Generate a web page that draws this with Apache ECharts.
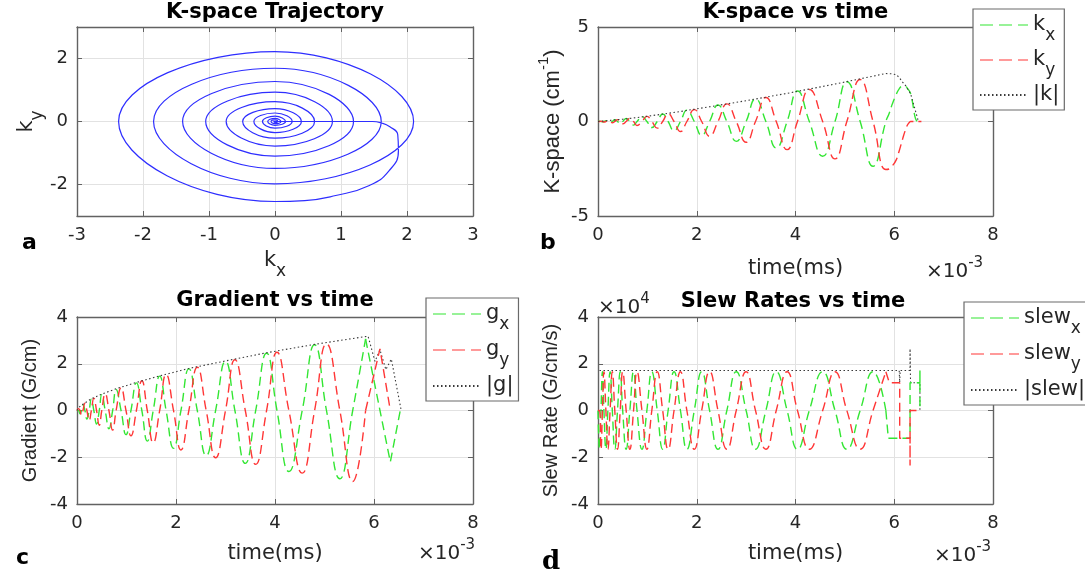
<!DOCTYPE html>
<html>
<head>
<meta charset="utf-8">
<script src="https://cdn.jsdelivr.net/npm/echarts@6/dist/echarts.min.js"></script>
<style>
  html, body { margin: 0; padding: 0; background: #fff; }
  #chart { width: 1085px; height: 578px; }
</style>
</head>
<body>
<div id="chart"></div>
<script>
// ---- data -------------------------------------------------------------
// Time values are in units of 1e-3 (the multiplier printed under each time axis).
// Samples are taken at every quarter turn of the spiral (kx max, ky max, kx min, ky min).
const turnTime = [0,
  0.03, 0.06, 0.09, 0.12,   0.16, 0.20, 0.245, 0.29,   0.34, 0.395, 0.45, 0.50,
  0.57, 0.645, 0.72, 0.79,  0.89, 0.99, 1.09, 1.20,    1.31, 1.42, 1.54, 1.67,
  1.80, 1.95, 2.10, 2.26,   2.43, 2.61, 2.80, 3.00,    3.19, 3.40, 3.61, 3.83,
  4.04, 4.28, 4.55, 4.80,   5.04, 5.31, 5.57, 5.83];

// k-space (cm^-1)
const kxTurn = [0,
  0.01, 0, -0.02, 0,   0.04, 0, -0.06, 0,   0.09, 0, -0.11, 0,   0.16, 0, -0.19, 0,
  0.26, 0, -0.32, 0,   0.40, 0, -0.49, 0,   0.60, 0, -0.74, 0,   0.87, 0, -1.05, 0,
  1.19, 0, -1.40, 0,   1.61, 0, -1.84, 0,   2.10, 0, -2.37, 0];
const kyTurn = [0,
  0, 0.015, 0, -0.03,  0, 0.05, 0, -0.07,   0, 0.10, 0, -0.12,   0, 0.17, 0, -0.21,
  0, 0.27, 0, -0.35,   0, 0.41, 0, -0.53,   0, 0.63, 0, -0.78,   0, 0.93, 0, -1.10,
  0, 1.27, 0, -1.49,   0, 1.69, 0, -1.98,   0, 2.22, 0, -2.54];
// rewinder back to the k-space origin
const kTailTime = [5.90, 5.96, 6.04, 6.10, 6.17, 6.23, 6.27, 6.31, 6.33, 6.49, 6.55];
const kxTail    = [0.45, 0.92, 1.43, 1.73, 1.87, 1.86, 1.74, 1.60, 1.48, 0, 0];
const kyTail    = [-2.51, -2.35, -2.03, -1.56, -0.92, -0.42, -0.17, -0.04, 0, 0, 0];
const kMagTime  = [0, 0.12, 0.29, 0.50, 0.79, 1.20, 1.67, 2.26, 3.00, 3.83, 4.80, 5.83, 5.96, 6.04, 6.10, 6.17, 6.23, 6.33, 6.49];
const kMagVals  = [0, 0.03, 0.07, 0.12, 0.21, 0.35, 0.53, 0.78, 1.10, 1.49, 1.98, 2.54, 2.52, 2.48, 2.33, 2.08, 1.90, 1.48, 0];

// gradient (G/cm)
const gxTurn = [0,
  0, -0.14, 0, 0.25,   0, -0.37, 0, 0.48,   0, -0.58, 0, 0.68,   0, -0.78, 0, 0.90,
  0, -1.03, 0, 1.18,   0, -1.31, 0, 1.47,   0, -1.62, 0, 1.78,   0, -1.93, 0, 2.10,
  0, -2.26, 0, 2.45,   0, -2.61, 0, 2.81,   0, -2.92, 0, 3.06];
const gyTurn = [0,
  0.08, 0, -0.20, 0,   0.31, 0, -0.43, 0,   0.53, 0, -0.63, 0,   0.72, 0, -0.84, 0,
  0.97, 0, -1.08, 0,   1.27, 0, -1.38, 0,   1.54, 0, -1.69, 0,   1.85, 0, -2.02, 0,
  2.17, 0, -2.30, 0,   2.49, 0, -2.68, 0,   2.85, 0, -3.04, 0];
const gxTailTime = [5.83, 6.33, 6.53];
const gxTail     = [3.06, -2.20, 0];
const gyTailTime = [5.83, 6.12, 6.33];
const gyTail     = [0, 2.64, 0];
const gMagTime = [0, 0.03, 0.12, 0.29, 0.50, 0.79, 1.20, 1.67, 2.26, 3.00, 3.83, 4.80, 5.88, 6.02, 6.12, 6.24, 6.35, 6.55];
const gMagVals = [0, 0.12, 0.27, 0.50, 0.70, 0.93, 1.20, 1.48, 1.80, 2.12, 2.47, 2.83, 3.18, 2.10, 2.60, 1.75, 2.20, 0];

// slew rate (x 1e4 G/cm/s)
const sxTurn = [0,
  -1.66, 0, 1.66, 0,  -1.66, 0, 1.66, 0,  -1.66, 0, 1.66, 0,  -1.66, 0, 1.66, 0,
  -1.66, 0, 1.66, 0,  -1.66, 0, 1.66, 0,  -1.66, 0, 1.66, 0,  -1.66, 0, 1.66, 0,
  -1.66, 0, 1.66, 0,  -1.66, 0, 1.66, 0,  -1.66, 0, 1.66, 0];
const syTurn = [0,
  0, -1.66, 0, 1.66,  0, -1.66, 0, 1.66,  0, -1.66, 0, 1.66,  0, -1.66, 0, 1.66,
  0, -1.66, 0, 1.66,  0, -1.66, 0, 1.66,  0, -1.66, 0, 1.66,  0, -1.66, 0, 1.66,
  0, -1.66, 0, 1.66,  0, -1.66, 0, 1.66,  0, -1.66, 0, 1.66];
const sxTailTime = [5.83, 5.88, 6.32, 6.32, 6.52, 6.52, 6.52];
const sxTail     = [0, -1.19, -1.19, 1.19, 1.19, 1.71, 0];
const syTailTime = [5.83, 5.90, 6.11, 6.11, 6.32, 6.32, 6.32, 6.45];
const syTail     = [1.66, 1.19, 1.19, -1.19, -1.19, -2.35, 0, 0];
const sMagTime = [0.03, 6.10, 6.11, 6.12, 6.32, 6.32, 6.33, 6.52, 6.52];
const sMagVals = [1.71, 1.71, 1.20, 1.71, 1.71, 2.64, 1.19, 1.19, 0];

// axis ticks
const kAxisTicks = [-2, 0, 2];

// ---- styling ----------------------------------------------------------
const SANS = '"DejaVu Sans", "Liberation Sans", sans-serif';
const ROT = '"Liberation Sans", Arial, sans-serif';
const INK = '#262626';
const BOX = '#626262';
const GRIDC = '#e2e2e2';
const GREEN = '#33e633', RED = '#ff3636', BLUE = '#2e2eff', DOT = '#3a3a3a';
const DASH = [9, 5], DOTS = [1.5, 2.5];
const LEGEND_DASH = [13, 6];

const pairs = (xs, ys) => xs.map((x, i) => [x, ys[i]]);

const grids = [
  { left: 77,  top: 27,  width: 396, height: 189 },
  { left: 598, top: 27,  width: 395, height: 189 },
  { left: 77,  top: 317, width: 396, height: 187 },
  { left: 598, top: 317, width: 395, height: 187 }
].map(g => Object.assign({ containLabel: false, outerBoundsMode: 'none' }, g));

const boxLine = () => ({ show: true, onZero: false, lineStyle: { color: BOX, width: 1.4 } });
const inTick = () => ({ show: true, inside: true, length: 5, lineStyle: { color: BOX, width: 1 } });
const tickLabel = (extra) => Object.assign({ color: INK, fontFamily: SANS, fontSize: 18 }, extra);

const subRich = {
  m: { fontFamily: SANS, fontSize: 21, color: INK, lineHeight: 22, verticalAlign: 'top' },
  s: { fontFamily: SANS, fontSize: 17, color: INK, lineHeight: 17, padding: [13, 0, 0, 0], verticalAlign: 'top' }
};
const rotRich = {
  n: { fontFamily: ROT, fontSize: 22, color: INK, lineHeight: 24, padding: [6, 0, 0, 0], verticalAlign: 'top' },
  p: { fontFamily: ROT, fontSize: 15, color: INK, lineHeight: 15, verticalAlign: 'top' }
};

function xAxes(gi, cfg) {
  const base = { type: 'value', gridIndex: gi, min: cfg.min, max: cfg.max, interval: cfg.interval };
  return [
    Object.assign({}, base, {
      position: 'bottom', axisLine: boxLine(), axisTick: inTick(),
      axisLabel: tickLabel({ margin: 10 }),
      splitLine: { show: true, lineStyle: { color: GRIDC, width: 1 } },
      name: cfg.name, nameLocation: 'middle', nameGap: cfg.nameGap,
      nameTextStyle: cfg.nameStyle
    }),
    Object.assign({}, base, {
      position: 'top', axisLine: boxLine(), axisTick: inTick(),
      axisLabel: { show: false }, splitLine: { show: false }
    })
  ];
}

function yAxes(gi, cfg) {
  const base = { type: 'value', gridIndex: gi, min: cfg.min, max: cfg.max, interval: cfg.interval };
  const tick = inTick(), tickR = inTick();
  const label = tickLabel({ margin: 9 });
  if (cfg.customValues) {
    tick.customValues = cfg.customValues;
    tickR.customValues = cfg.customValues;
    label.customValues = cfg.customValues;
  }
  return [
    Object.assign({}, base, {
      position: 'left', axisLine: boxLine(), axisTick: tick, axisLabel: label,
      splitLine: { show: true, lineStyle: { color: GRIDC, width: 1 } },
      name: cfg.name, nameLocation: 'middle', nameRotate: 90, nameGap: cfg.nameGap,
      nameTextStyle: cfg.nameStyle
    }),
    Object.assign({}, base, {
      position: 'right', axisLine: boxLine(), axisTick: tickR,
      axisLabel: { show: false }, splitLine: { show: false }
    })
  ];
}

const timeName = { fontFamily: SANS, fontSize: 21, color: INK };

const xAxis = [].concat(
  xAxes(0, { min: -3, max: 3, interval: 1, name: '{m|k}{s|x}', nameGap: 34,
             nameStyle: { rich: subRich } }),
  xAxes(1, { min: 0, max: 8, interval: 2, name: 'time(ms)', nameGap: 42, nameStyle: timeName }),
  xAxes(2, { min: 0, max: 8, interval: 2, name: 'time(ms)', nameGap: 39, nameStyle: timeName }),
  xAxes(3, { min: 0, max: 8, interval: 2, name: 'time(ms)', nameGap: 39, nameStyle: timeName })
);

const yAxis = [].concat(
  yAxes(0, { min: -3, max: 3, customValues: kAxisTicks, name: '{m|k}{s|y}', nameGap: 36,
             nameStyle: { rich: subRich } }),
  yAxes(1, { min: -5, max: 5, interval: 5, name: '{n|K-space (cm}{p|-1}{n|)}', nameGap: 38,
             nameStyle: { rich: rotRich } }),
  yAxes(2, { min: -4, max: 4, interval: 2, name: 'Gradient (G/cm)', nameGap: 37,
             nameStyle: { fontFamily: ROT, fontSize: 20, color: INK } }),
  yAxes(3, { min: -4, max: 4, interval: 2, name: 'Slew Rate (G/cm/s)', nameGap: 37,
             nameStyle: { fontFamily: ROT, fontSize: 20, color: INK } })
);

function curve(name, axis, data, color, type, smooth) {
  return {
    type: 'line', name, xAxisIndex: axis * 2, yAxisIndex: axis * 2, data,
    smooth: smooth ? 0.5 : false, symbol: 'none', animation: false,
    lineStyle: { color, width: type === DOTS ? 1.1 : (type === 'solid' ? 1.2 : 1.4), type },
    itemStyle: { color }
  };
}

const series = [
  curve('trajectory', 0, pairs(kxTurn.concat(kxTail), kyTurn.concat(kyTail)), BLUE, 'solid', true),

  curve('kx', 1, pairs(turnTime.concat(kTailTime), kxTurn.concat(kxTail)), GREEN, DASH, true),
  curve('ky', 1, pairs(turnTime.concat(kTailTime), kyTurn.concat(kyTail)), RED, DASH, true),
  curve('|k|', 1, pairs(kMagTime, kMagVals), DOT, DOTS, false),

  curve('gx', 2, pairs(turnTime, gxTurn), GREEN, DASH, true),
  curve('gy', 2, pairs(turnTime, gyTurn), RED, DASH, true),
  curve('|g|', 2, pairs(gMagTime, gMagVals), DOT, DOTS, false),
  curve('gx', 2, pairs(gxTailTime, gxTail), GREEN, DASH, false),
  curve('gy', 2, pairs(gyTailTime, gyTail), RED, DASH, false),

  curve('slewx', 3, pairs(turnTime, sxTurn), GREEN, DASH, true),
  curve('slewy', 3, pairs(turnTime, syTurn), RED, DASH, true),
  curve('|slew|', 3, pairs(sMagTime, sMagVals), DOT, DOTS, false),
  curve('slewx', 3, pairs(sxTailTime, sxTail), GREEN, DASH, false),
  curve('slewy', 3, pairs(syTailTime, syTail), RED, DASH, false)
];

const legendText = {
  'kx': '{m|k}{s|x}', 'ky': '{m|k}{s|y}', '|k|': '{m||k|}',
  'gx': '{m|g}{s|x}', 'gy': '{m|g}{s|y}', '|g|': '{m||g|}',
  'slewx': '{m|slew}{s|x}', 'slewy': '{m|slew}{s|y}', '|slew|': '{m||slew|}'
};

function legend(names, left, top, gap, pad) {
  // the two component entries get a longer dash in the key; the magnitude keeps its dots
  const data = names.map((n, i) => i < 2
    ? { name: n, lineStyle: { type: LEGEND_DASH, width: 1.2 } }
    : { name: n });
  return {
    data, orient: 'vertical', left, top, itemGap: gap,
    itemWidth: 48, itemHeight: 14, padding: pad,
    backgroundColor: '#fff', borderColor: '#6a6a6a', borderWidth: 1.2, borderRadius: 0,
    selectedMode: false, align: 'left',
    itemStyle: { opacity: 0 },
    formatter: n => legendText[n],
    textStyle: { rich: subRich }
  };
}

function label(x, y, text, font, align) {
  return {
    type: 'text', x, y, silent: true,
    style: { text, font, fill: '#000', align: align || 'left', textAlign: align || 'left',
             verticalAlign: 'middle', textVerticalAlign: 'middle' }
  };
}

function multiplier(x, y, main, sup) {
  return {
    type: 'text', x, y, silent: true,
    style: {
      text: '{a|' + main + '}{b|' + sup + '}',
      align: 'left', textAlign: 'left', verticalAlign: 'top', textVerticalAlign: 'top',
      rich: {
        a: { fontFamily: SANS, fontSize: 20, fill: INK, color: INK, lineHeight: 20, padding: [6, 0, 0, 0], verticalAlign: 'top' },
        b: { fontFamily: SANS, fontSize: 15, fill: INK, color: INK, lineHeight: 15, verticalAlign: 'top' }
      }
    }
  };
}

const TITLE = 'bold 21px ' + SANS;
const graphic = [
  label(275, 13, 'K-space Trajectory', TITLE, 'center'),
  label(795.5, 13, 'K-space vs time', TITLE, 'center'),
  label(275, 301, 'Gradient vs time', TITLE, 'center'),
  label(793, 302, 'Slew Rates vs time', TITLE, 'center'),
  label(22, 243, 'a', 'bold 22px ' + SANS),
  label(540, 243, 'b', 'bold 22px ' + SANS),
  label(16, 558, 'c', 'bold 22px ' + SANS),
  label(542, 562, 'd', 'bold 26px "DejaVu Serif", "Liberation Serif", serif'),
  multiplier(926, 256, '\u00d710', '-3'),
  multiplier(418, 538, '\u00d710', '-3'),
  multiplier(934, 540, '\u00d710', '-3'),
  multiplier(598, 292, '\u00d710', '4')
];

const chart = echarts.init(document.getElementById('chart'), null, { renderer: 'canvas' });
chart.setOption({
  animation: false,
  backgroundColor: '#fff',
  textStyle: { fontFamily: SANS },
  grid: grids,
  xAxis, yAxis, series,
  legend: [
    legend(['kx', 'ky', '|k|'], 973, 9, 5, [5, 5, 5, 6]),
    legend(['gx', 'gy', '|g|'], 426, 298, 6, [5, 5, 5, 6]),
    legend(['slewx', 'slewy', '|slew|'], 964, 302, 6, [5, 9, 5, 6])
  ],
  graphic
});
</script>
</body>
</html>
